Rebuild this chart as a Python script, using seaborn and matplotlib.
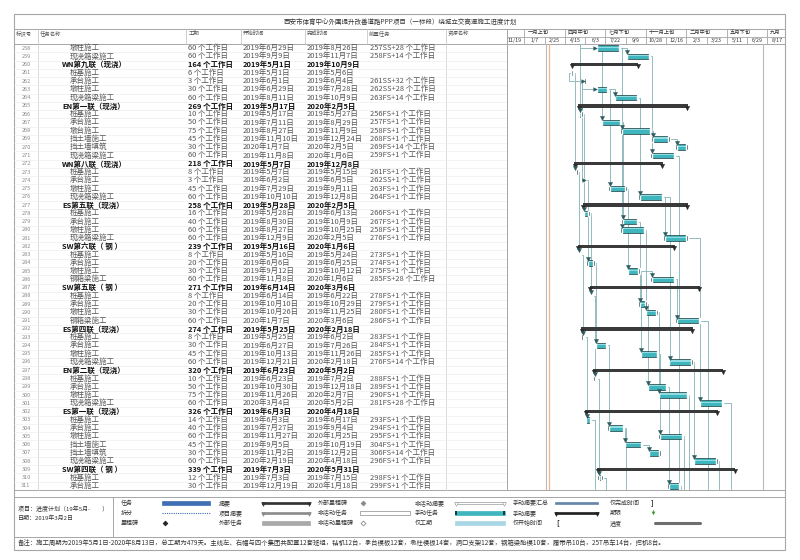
import re
import matplotlib
matplotlib.use("Agg")
import matplotlib.pyplot as plt
import matplotlib.dates as mdates
from matplotlib.patches import Rectangle
import seaborn as sns
import pandas as pd
import numpy as np

# ---------------- data ----------------
title = "西安市体育中心外围提升改善道路PPP项目（一标段）绕城立交高速施工进度计划"
ids = list(range(258, 312))
summary_ids = [260, 265, 272, 277, 282, 287, 292, 297, 302, 309]
names = ["墩柱施工", "现浇箱梁施工",
         "WN第九联（现浇）", "桩基施工", "承台施工", "墩柱施工", "现浇箱梁施工",
         "EN第一联（现浇）", "桩基施工", "承台施工", "墩台施工", "挡土墙施工", "挡土墙填筑", "现浇箱梁施工",
         "WN第八联（现浇）", "桩基施工", "承台施工", "墩柱施工", "现浇箱梁施工",
         "ES第五联（现浇）", "桩基施工", "承台施工", "墩柱施工", "现浇箱梁施工",
         "SW第六联（ 钢 ）", "桩基施工", "承台施工", "墩柱施工", "钢箱梁施工",
         "SW第五联（ 钢 ）", "桩基施工", "承台施工", "墩柱施工", "钢箱梁施工",
         "ES第四联（现浇）", "桩基施工", "承台施工", "墩柱施工", "现浇箱梁施工",
         "EN第二联（现浇）", "桩基施工", "承台施工", "墩柱施工", "现浇箱梁施工",
         "ES第一联（现浇）", "桩基施工", "承台施工", "墩柱施工", "挡土墙施工", "挡土墙填筑", "现浇箱梁施工",
         "SW第四联（ 钢 ）", "桩基施工", "承台施工"]
durations = [60, 60,
             164, 6, 3, 30, 60,
             269, 10, 50, 75, 45, 30, 60,
             218, 8, 3, 45, 60,
             258, 16, 40, 60, 60,
             239, 8, 20, 30, 60,
             271, 8, 20, 30, 60,
             274, 8, 30, 45, 60,
             320, 10, 50, 75, 60,
             326, 14, 40, 60, 45, 30, 60,
             339, 12, 30]
starts = ["2019年6月29日", "2019年9月9日",
          "2019年5月1日", "2019年5月1日", "2019年6月1日", "2019年6月29日", "2019年8月11日",
          "2019年5月17日", "2019年5月17日", "2019年7月11日", "2019年8月27日", "2019年11月10日", "2020年1月7日", "2019年11月8日",
          "2019年5月7日", "2019年5月7日", "2019年6月2日", "2019年7月29日", "2019年10月10日",
          "2019年5月28日", "2019年5月28日", "2019年8月30日", "2019年8月27日", "2019年12月9日",
          "2019年5月16日", "2019年5月16日", "2019年6月6日", "2019年9月12日", "2019年11月8日",
          "2019年6月14日", "2019年6月14日", "2019年10月10日", "2019年10月26日", "2020年1月7日",
          "2019年5月25日", "2019年5月25日", "2019年6月27日", "2019年10月13日", "2019年12月21日",
          "2019年6月23日", "2019年6月23日", "2019年10月30日", "2019年11月26日", "2020年3月4日",
          "2019年6月3日", "2019年6月3日", "2019年7月27日", "2019年11月27日", "2019年9月5日", "2019年11月2日", "2020年2月19日",
          "2019年7月3日", "2019年7月3日", "2019年12月19日"]
finishes = ["2019年8月26日", "2019年11月7日",
            "2019年10月9日", "2019年5月6日", "2019年6月4日", "2019年7月28日", "2019年10月9日",
            "2020年2月5日", "2019年5月27日", "2019年8月29日", "2019年11月9日", "2019年12月24日", "2020年2月5日", "2020年1月6日",
            "2019年12月8日", "2019年5月15日", "2019年6月5日", "2019年9月11日", "2019年12月8日",
            "2020年2月5日", "2019年6月13日", "2019年10月9日", "2019年10月25日", "2020年2月5日",
            "2020年1月6日", "2019年5月24日", "2019年6月25日", "2019年10月12日", "2020年1月6日",
            "2020年3月6日", "2019年6月22日", "2019年10月29日", "2019年11月25日", "2020年3月6日",
            "2020年2月18日", "2019年6月2日", "2019年7月26日", "2019年11月26日", "2020年2月18日",
            "2020年5月2日", "2019年7月2日", "2019年12月18日", "2020年2月7日", "2020年5月2日",
            "2020年4月18日", "2019年6月17日", "2019年9月4日", "2020年1月25日", "2019年10月19日", "2019年12月2日", "2020年4月18日",
            "2020年5月31日", "2019年7月15日", "2020年1月18日"]
preds = ["257SS+28", "258FS+14",
         "", "", "261SS+32", "262SS+28", "263FS+14",
         "", "256FS+1", "257FS+1", "258FS+1", "268FS+1", "269FS+14", "259FS+1",
         "", "261FS+1", "262SS+1", "263FS+1", "264FS+1",
         "", "266FS+1", "267FS+1", "258FS+1", "276FS+1",
         "", "273FS+1", "274FS+1", "275FS+1", "285FS+28",
         "", "278FS+1", "279FS+1", "280FS+1", "286FS+1",
         "", "283FS+1", "284FS+1", "285FS+1", "276FS+14",
         "", "288FS+1", "289FS+1", "290FS+1", "281FS+28",
         "", "293FS+1", "294FS+1", "295FS+1", "304FS+1", "306FS+14", "296FS+1",
         "", "298FS+1", "299FS+1"]
# tasks outside the visible rows that the links run to
hidden_pred_start = {257: "2019-05-28"}
below_pred = [303, 310, 304, 271, 311, 305, 300, 291, 308, 301]
below_start = ["2019-06-26", "2019-07-23", "2019-09-11", "2020-01-17", "2020-01-22",
               "2020-01-28", "2020-02-10", "2020-03-27", "2020-04-22", "2020-05-22"]
status_lines = ["2019-02-28", "2020-08-06"]
today_line = "2019-03-08"

upper_ticks = ["2018-09-30", "2019-01-07", "2019-04-15", "2019-07-22", "2019-10-28",
               "2020-02-03", "2020-05-11", "2020-08-17"]
upper_labels = ["十月上旬", "一月上旬", "四月中旬", "七月下旬", "十一月上旬", "二月中旬", "五月下旬", "九月"]
lower_ticks = ["2018-10-01", "2018-11-19", "2019-01-07", "2019-02-25", "2019-04-15", "2019-06-03",
               "2019-07-22", "2019-09-09", "2019-10-28", "2019-12-16", "2020-02-03", "2020-03-23",
               "2020-05-11", "2020-06-29", "2020-08-17"]
lower_labels = ["10/1", "11/19", "1/7", "2/25", "4/15", "6/3", "7/22", "9/9", "10/28", "12/16",
                "2/3", "3/23", "5/11", "6/29", "8/17"]

legend_labels = [["任务", "拆分", "里程碑"], ["摘要", "项目摘要", "外部任务"],
                 ["外部里程碑", "非活动任务", "非活动里程碑"], ["非活动摘要", "手动任务", "仅工期"],
                 ["手动摘要汇总", "手动摘要", "仅开始时间"], ["仅完成时间", "期限", "进度"]]
legend_kinds = [["task", "split", "milestone"], ["summary", "proj_summary", "ext_task"],
                ["ext_ms", "inactive_task", "inactive_ms"], ["inactive_summary", "manual_task", "dur_only"],
                ["manual_rollup", "manual_summary", "start_only"], ["finish_only", "deadline", "progress"]]
project_text = ["项目：进度计划（19年5月-　　）", "日期：2019年3月2日"]
note = ("备注：施工周期为2019年5月1日-2020年8月13日，总工期为479天。主线左、右幅与四个集团共配置12套班组，"
        "钻机12台，承台模板12套，墩柱模板14套，洞口支架12套，钢箱梁胎模10套，履带吊10台，25T吊车14台，挖机8台。")


def cn_date(s):
    y, m, d = re.match(r"(\d+)年(\d+)月(\d+)日", s).groups()
    return pd.Timestamp(int(y), int(m), int(d))


df = pd.DataFrame({"id": ids, "name": names, "dur": durations, "start_s": starts,
                   "finish_s": finishes, "pred": preds})
df["summary"] = df["id"].isin(summary_ids)
df["row"] = np.arange(len(df)) + 0.5
df["x0"] = mdates.date2num(df["start_s"].map(cn_date))
df["x1"] = mdates.date2num(df["finish_s"].map(cn_date)) + 1
n = len(df)

# ---------------- figure ----------------
sns.set_theme(style="white")
plt.rcParams["font.family"] = ["Noto Sans CJK SC", "DejaVu Sans"]
W, H = 800, 560
fig = plt.figure(figsize=(8, 5.6), dpi=100)


def box(x0, y0, x1, y1):
    return [x0 / W, 1 - y1 / H, (x1 - x0) / W, (y1 - y0) / H]


TOP, BOT, GX, RX = 44, 490, 507, 785
bg = fig.add_axes([0, 0, 1, 1])
bg.set_xlim(0, W)
bg.set_ylim(H, 0)
bg.axis("off")
tbl = fig.add_axes(box(14, TOP, GX, BOT))
tbl.set_xlim(14, GX)
tbl.set_ylim(n, 0)
tbl.axis("off")
gan = fig.add_axes(box(GX, TOP, RX, BOT))
hdr = fig.add_axes(box(GX, 29, RX, TOP), sharex=gan)

xmin, xmax = mdates.date2num(pd.Timestamp("2018-11-26")), mdates.date2num(pd.Timestamp("2020-09-29"))
gan.set_xlim(xmin, xmax)
gan.set_ylim(n, 0)
gan.axis("off")
hdr.set_ylim(0, 2)
hdr.axis("off")
dpp = (xmax - xmin) / (RX - GX)   # days per pixel

line_c = "#a6a6a6"
# frame and grid of the table
bg.add_patch(Rectangle((14, 14), RX - 14, 536, fill=False, ec=line_c, lw=0.8))
for y in [29, TOP, BOT, 497, 537]:
    bg.plot([14, RX], [y, y], color=line_c, lw=0.7)
for x in [38, 186, 241, 305, 367, 446, GX]:
    bg.plot([x, x], [29, TOP], color="#c8c8c8", lw=0.6)
for x in [38, 446]:
    bg.plot([x, x], [TOP, BOT], color="#d4d4d4", lw=0.6)
bg.plot([GX, GX], [29, BOT], color=line_c, lw=0.7)
bg.plot([113, 113], [497, 537], color=line_c, lw=0.7)
for k in range(1, n):
    tbl.axhline(k, color="#efefef", lw=0.5)

bg.text(400, 22, title, ha="center", va="center", fontsize=4.7, color="#333333")
for txt, x in zip(["标识号", "任务名称", "工期", "开始时间", "完成时间", "前置任务", "资源名称"],
                  [16, 40, 189, 243, 307, 369, 448]):
    bg.text(x, 33.5, txt, ha="left", va="center", fontsize=3.9, color="#555555")

# table rows
for r in df.itertuples():
    if r.summary:
        kw = dict(fontsize=5.4, color="#111111", fontweight="bold")
        nx = 62
    else:
        kw = dict(fontsize=5.4, color="#555555")
        nx = 70
    y = r.row
    tbl.text(26, y, str(r.id), ha="center", va="center", fontsize=4.0, color="#888888")
    tbl.text(nx, y, r.name, ha="left", va="center", **kw)
    tbl.text(188, y, f"{r.dur} 个工作日", ha="left", va="center", **kw)
    tbl.text(243, y, r.start_s, ha="left", va="center", **kw)
    tbl.text(307, y, r.finish_s, ha="left", va="center", **kw)
    if r.pred:
        tbl.text(370, y, f"{r.pred} 个工作日", ha="left", va="center", **kw)

# timescale header
hdr.axhline(1, color=line_c, lw=0.6)
for d, lab in zip(upper_ticks, upper_labels):
    xd = mdates.date2num(pd.Timestamp(d))
    hdr.plot([xd, xd], [1, 2], color=line_c, lw=0.6)
    hdr.text(xd + 3 * dpp, 1.5, lab, ha="left", va="center", fontsize=3.8, color="#333333", clip_on=True)
for d, lab in zip(lower_ticks, lower_labels):
    xd = mdates.date2num(pd.Timestamp(d))
    hdr.plot([xd, xd], [0, 1], color=line_c, lw=0.6)
    hdr.text(xd + 24.5, 0.5, lab, ha="center", va="center", fontsize=3.8, color="#333333", clip_on=True)

# vertical status lines
for d in status_lines:
    gan.axvline(mdates.date2num(pd.Timestamp(d)), color="#b9b9b9", lw=0.8)
gan.axvline(mdates.date2num(pd.Timestamp(today_line)), color="#f5b38a", lw=0.9)

# links
link_c, arrow_c = "#93bcc0", "#2b5a5e"
row_of = dict(zip(df["id"], df["row"]))
x0_of = dict(zip(df["id"], df["x0"]))
x1_of = dict(zip(df["id"], df["x1"]))
down_x, down_y, right_x, right_y = [], [], [], []
for r in df.itertuples():
    if not r.pred:
        continue
    pid, kind = re.match(r"(\d+)(FS|SS)", r.pred).groups()
    pid = int(pid)
    if kind == "FS":
        vx = r.x0 + 1.5 * dpp
        ytop = r.row - 0.5
        if pid in row_of:
            gan.plot([x1_of[pid], vx, vx], [row_of[pid], row_of[pid], ytop], color=link_c, lw=0.7, zorder=1)
        else:
            gan.plot([vx, vx], [0, ytop], color=link_c, lw=0.7, zorder=1)
        down_x.append(vx)
        down_y.append(ytop)
    else:
        if pid in row_of:
            px, py = x0_of[pid], row_of[pid]
        else:
            px, py = mdates.date2num(pd.Timestamp(hidden_pred_start[pid])), 0
        vx = px - 2.5 * dpp
        gan.plot([px, vx, vx, r.x0], [py, py, r.row, r.row], color=link_c, lw=0.7, zorder=1)
        right_x.append(r.x0 - 0.8 * dpp)
        right_y.append(r.row)
for pid, d in zip(below_pred, below_start):
    vx = mdates.date2num(pd.Timestamp(d))
    gan.plot([x1_of[pid], vx, vx], [row_of[pid], row_of[pid], n], color=link_c, lw=0.7, zorder=1)

# bars
tasks = df[~df["summary"]]
summ = df[df["summary"]]
teal, dark = "#3fb6be", "#1f3b3e"
bh = 0.68
gan.barh(tasks["row"], tasks["x1"] - tasks["x0"], left=tasks["x0"], height=bh,
         color=teal, edgecolor=dark, lw=0.5, zorder=3)
gan.barh(tasks["row"] - 0.12, tasks["x1"] - tasks["x0"], left=tasks["x0"], height=0.14,
         color="#8fdde2", lw=0, zorder=3)
cap = 1.4 * dpp
gan.barh(tasks["row"], cap, left=tasks["x0"], height=bh, color=dark, zorder=4)
gan.barh(tasks["row"], cap, left=tasks["x1"] - cap, height=bh, color=dark, zorder=4)
gan.barh(summ["row"], summ["x1"] - summ["x0"], left=summ["x0"], height=0.38,
         color="#3a3a3a", lw=0, zorder=3)
sns.scatterplot(x=np.r_[summ["x0"] + 0.8 * dpp, summ["x1"] - 0.8 * dpp], y=np.r_[summ["row"], summ["row"]] + 0.22,
                marker="v", s=10, color="#2a2a2a", edgecolor="#2a2a2a", linewidth=0.3, ax=gan,
                legend=False, zorder=4)
sns.scatterplot(x=down_x, y=down_y, marker="v", s=9, color=arrow_c, edgecolor=arrow_c,
                linewidth=0.3, ax=gan, legend=False, zorder=5)
sns.scatterplot(x=right_x, y=right_y, marker=">", s=7, color=arrow_c, edgecolor=arrow_c,
                linewidth=0.3, ax=gan, legend=False, zorder=5)

# ---------------- legend ----------------
bg.text(18, 509, project_text[0], fontsize=4.3, color="#333333", va="center")
bg.text(18, 518, project_text[1], fontsize=4.3, color="#333333", va="center")
label_x = [121, 219, 318, 415, 513, 610]
sample_x = [(162, 210), (262, 310), (360, 410), (455, 505), (555, 598), (651, 700)]
row_y = [503, 513, 523]


def sample(kind, xa, xb, y):
    if kind in ("task", "ext_task", "dur_only", "inactive_task", "manual_task", "manual_rollup"):
        fc = {"task": "#3f6fb5", "ext_task": "#a9a9a9", "dur_only": "#a8d6e4", "inactive_task": "white",
              "manual_task": teal, "manual_rollup": "#6685aa"}[kind]
        h = 2.6 if kind == "manual_rollup" else 4
        ec = "#8a8a8a" if kind == "inactive_task" else fc
        bg.add_patch(Rectangle((xa, y - h / 2), xb - xa, h, fc=fc, ec=ec, lw=0.5))
        if kind == "manual_task":
            bg.add_patch(Rectangle((xa, y - h / 2), 2, h, fc=dark, lw=0))
            bg.add_patch(Rectangle((xb - 2, y - h / 2), 2, h, fc=dark, lw=0))
    elif kind == "split":
        bg.plot([xa, xb], [y, y], color="#3f6fb5", lw=0.8, ls=(0, (1, 1)))
    elif kind in ("milestone", "ext_ms", "inactive_ms"):
        c = {"milestone": "#222222", "ext_ms": "#888888", "inactive_ms": "white"}[kind]
        bg.scatter([xa + 3], [y], marker="D", s=6, color=c, edgecolor="#777777" if kind == "inactive_ms" else c, lw=0.5)
    elif kind in ("summary", "proj_summary", "inactive_summary", "manual_summary"):
        c = {"summary": "#333333", "proj_summary": "#8d8d8d", "inactive_summary": "white",
             "manual_summary": "#222222"}[kind]
        ec = "#9a9a9a" if kind == "inactive_summary" else c
        bg.add_patch(Rectangle((xa, y - 1.3), xb - xa, 2.6, fc=c, ec=ec, lw=0.5))
        bg.scatter([xa + 1, xb - 1], [y + 1.2, y + 1.2], marker="v", s=7, color=c, edgecolor=ec, lw=0.4)
    elif kind == "start_only":
        bg.text(xa + 1, y, "[", fontsize=5, color="#222222", va="center", fontweight="bold")
    elif kind == "finish_only":
        bg.text(xa, y, "]", fontsize=5, color="#222222", va="center", fontweight="bold")
    elif kind == "deadline":
        bg.scatter([xa + 2], [y], marker="v", s=7, color="#3a9a3a", lw=0)
        bg.plot([xa + 2, xa + 2], [y - 3, y], color="#3a9a3a", lw=0.6)
    elif kind == "progress":
        bg.plot([xa + 4, xb], [y, y], color="#6e6e6e", lw=2.2)


for labs, kinds, lx, (xa, xb) in zip(legend_labels, legend_kinds, label_x, sample_x):
    for lab, kind, y in zip(labs, kinds, row_y):
        bg.text(lx, y, lab, fontsize=4.3, color="#333333", va="center")
        sample(kind, xa, xb, y)

bg.text(18, 543, note, fontsize=4.6, color="#333333", va="center")

fig.savefig("out.png", dpi=100)
